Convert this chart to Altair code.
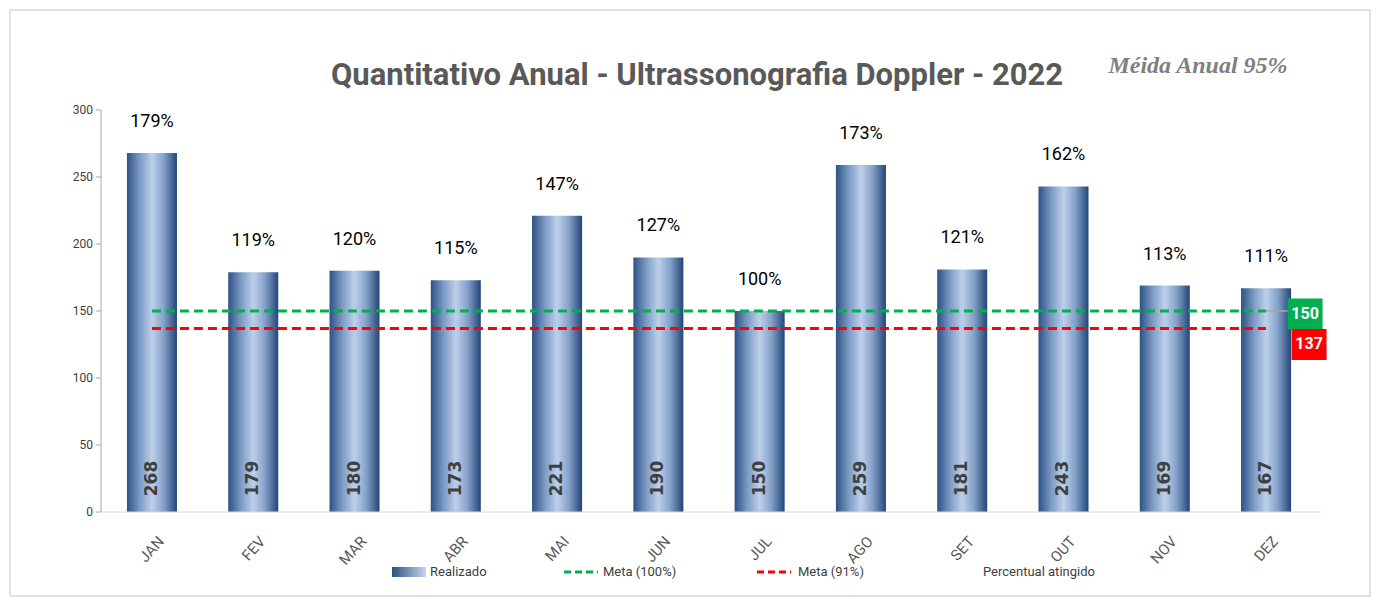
import altair as alt
import pandas as pd

# ---- data ----
months = ["JAN", "FEV", "MAR", "ABR", "MAI", "JUN", "JUL", "AGO", "SET", "OUT", "NOV", "DEZ"]
realizado = [268, 179, 180, 173, 221, 190, 150, 259, 181, 243, 169, 167]
percentual = ["179%", "119%", "120%", "115%", "147%", "127%", "100%", "173%", "121%", "162%", "113%", "111%"]
meta_series = ["Meta (100%)", "Meta (91%)"]
meta_values = [150, 137]
legend_items = ["Realizado", "Meta (100%)", "Meta (91%)", "Percentual atingido"]
y_ticks = [0, 50, 100, 150, 200, 250, 300]
title_text = "Quantitativo Anual - Ultrassonografia Doppler - 2022"
media_text = "Méida Anual 95%"

df = pd.DataFrame({"mes": months, "realizado": realizado, "pct": percentual})
metas = pd.DataFrame({
    "serie": meta_series,
    "valor": meta_values,
    "inicio": [months[0]] * len(meta_series),
    "fim": [months[-1]] * len(meta_series),
})
ticks_df = pd.DataFrame({"tick": y_ticks})
span_df = pd.DataFrame({"lo": [min(y_ticks)], "hi": [max(y_ticks)]})
one = pd.DataFrame({"k": [0]})

SANS = "Roboto"
W, H = 1216, 402

xscale = alt.Scale(domain=months, paddingInner=0.506, paddingOuter=0.256)
yscale = alt.Scale(domain=[0, 300], nice=False)
cscale = alt.Scale(domain=meta_series, range=["#00b050", "#ff0000"])

grad = alt.Gradient(
    gradient="linear", x1=0, x2=1, y1=0, y2=0,
    stops=[
        alt.GradientStop(color="#2d5285", offset=0),
        alt.GradientStop(color="#809dc6", offset=0.27),
        alt.GradientStop(color="#bcd0ea", offset=0.5),
        alt.GradientStop(color="#86a2c9", offset=0.73),
        alt.GradientStop(color="#234677", offset=1),
    ],
)
leg_grad = alt.Gradient(
    gradient="linear", x1=0, x2=1, y1=0, y2=0,
    stops=[alt.GradientStop(color="#2c5082", offset=0), alt.GradientStop(color="#c6d6eb", offset=1)],
)

X = lambda f="mes:N": alt.X(f, scale=xscale, axis=None)
Y = lambda f: alt.Y(f, scale=yscale, axis=None)

base = alt.Chart(df)

bars = base.mark_bar(color=grad).encode(x=X(), y=Y("realizado:Q"))

pct_text = base.mark_text(font=SANS, fontSize=18, color="#000000", dy=-31, baseline="middle").encode(
    x=X(), y=Y("realizado:Q"), text="pct:N")

val_text = base.mark_text(angle=270, font="DejaVu Sans", fontWeight="bold", fontSize=17,
                          color="#404040", baseline="middle", align="center").encode(
    x=X(), y=alt.Y(datum=25, scale=yscale, axis=None), text="realizado:Q")

# ---- axes drawn from the same scales ----
x_labels = base.mark_text(angle=312, align="right", baseline="top", font=SANS, fontSize=15,
                          color="#595959", yOffset=22, xOffset=4).encode(
    x=X(), y=alt.Y(datum=0, scale=yscale, axis=None), text="mes:N")
x_domain = alt.Chart(one).mark_rule(color="#d9d9d9", strokeWidth=1).encode(
    x=alt.value(0), x2=alt.value(W + 4), y=alt.Y(datum=0, scale=yscale, axis=None))

y_domain = alt.Chart(span_df).mark_rule(color="#a6a6a6", strokeWidth=1).encode(
    x=alt.value(0), y=Y("lo:Q"), y2="hi:Q")
y_tickmarks = alt.Chart(ticks_df).mark_rule(color="#a6a6a6", strokeWidth=1).encode(
    x=alt.value(-5), x2=alt.value(0), y=Y("tick:Q"))
y_labels = alt.Chart(ticks_df).mark_text(align="right", baseline="middle", font=SANS, fontSize=12,
                                         color="#404040").encode(
    x=alt.value(-8), y=Y("tick:Q"), text="tick:Q")

# ---- target lines and their end labels ----
meta_base = alt.Chart(metas)

rules = meta_base.mark_rule(strokeWidth=3, strokeDash=[9, 5]).encode(
    x=X("inicio:N"), x2="fim:N", y=Y("valor:Q"),
    color=alt.Color("serie:N", scale=cscale, legend=None))

leader = meta_base.transform_filter(alt.datum.serie == meta_series[0]).mark_rule(
    color="#a6a6a6", strokeWidth=1.5, x2Offset=22).encode(
    x=X("fim:N"), x2="fim:N", y=Y("valor:Q"))

BOX = "M-1.13,-1H1.13V1H-1.13Z"


def box_layers(serie, dx, dy):
    sub = meta_base.transform_filter(alt.datum.serie == serie)
    box = sub.mark_point(shape=BOX, size=961, filled=True, opacity=1, xOffset=dx, yOffset=dy).encode(
        x=X("fim:N"), y=Y("valor:Q"), color=alt.Color("serie:N", scale=cscale, legend=None))
    txt = sub.mark_text(font=SANS, fontWeight="bold", fontSize=16, color="white",
                        xOffset=dx, yOffset=dy, baseline="middle", align="center").encode(
        x=X("fim:N"), y=Y("valor:Q"), text="valor:Q")
    return [box, txt]


box150 = box_layers(meta_series[0], 39, 3)
box137 = box_layers(meta_series[1], 43, 16)

# ---- legend (drawn by hand, below the axis) ----
LEG_Y = 462


def legend_text(label, x):
    d = pd.DataFrame({"t": [label]})
    return alt.Chart(d).mark_text(font=SANS, fontSize=13, color="#404040", align="left",
                                  baseline="middle", x=x, y=LEG_Y).encode(text="t:N")


leg_rect = alt.Chart(one).mark_rect(color=leg_grad).encode(
    x=alt.value(291), x2=alt.value(325), y=alt.value(LEG_Y - 5), y2=alt.value(LEG_Y + 5))
leg_green = alt.Chart(one).mark_rule(color="#00b050", strokeWidth=3, strokeDash=[7, 4]).encode(
    x=alt.value(463), x2=alt.value(497), y=alt.value(LEG_Y))
leg_red = alt.Chart(one).mark_rule(color="#ff0000", strokeWidth=3, strokeDash=[7, 4]).encode(
    x=alt.value(656), x2=alt.value(690), y=alt.value(LEG_Y))
legend_layers = [
    leg_rect, leg_green, leg_red,
    legend_text(legend_items[0], 329),
    legend_text(legend_items[1], 502),
    legend_text(legend_items[2], 697),
    legend_text(legend_items[3], 882),
]

# ---- titles and frame ----
ann = pd.DataFrame({"t": [title_text]})
title_mark = alt.Chart(ann).mark_text(font=SANS, fontWeight="bold", fontSize=31,
                                      color="#595959", align="center", baseline="middle").encode(
    x=alt.value(596), y=alt.value(-34), text="t:N")

ann2 = pd.DataFrame({"t": [media_text]})
media_mark = alt.Chart(ann2).mark_text(font="Liberation Serif", fontStyle="italic", fontWeight="bold",
                                       fontSize=24, color="#808080", align="center",
                                       baseline="middle").encode(
    x=alt.value(1097), y=alt.value(-44), text="t:N")

frame = alt.Chart(one).mark_rect(fillOpacity=0, stroke="#d9d9d9", strokeWidth=1.5).encode(
    x=alt.value(-91), x2=alt.value(1269), y=alt.value(-100), y2=alt.value(486))

chart = alt.layer(
    frame, bars, rules, leader, *box150, *box137, pct_text, val_text,
    x_domain, x_labels, y_domain, y_tickmarks, y_labels,
    *legend_layers, title_mark, media_mark,
).properties(
    width=W,
    height=H,
    padding={"left": 93, "top": 102, "right": 55, "bottom": 86},
    autosize=alt.AutoSizeParams(type="none"),
    background="white",
).configure_view(stroke=None)

chart.save("out.html", embed_options={"renderer": "svg", "actions": False})
